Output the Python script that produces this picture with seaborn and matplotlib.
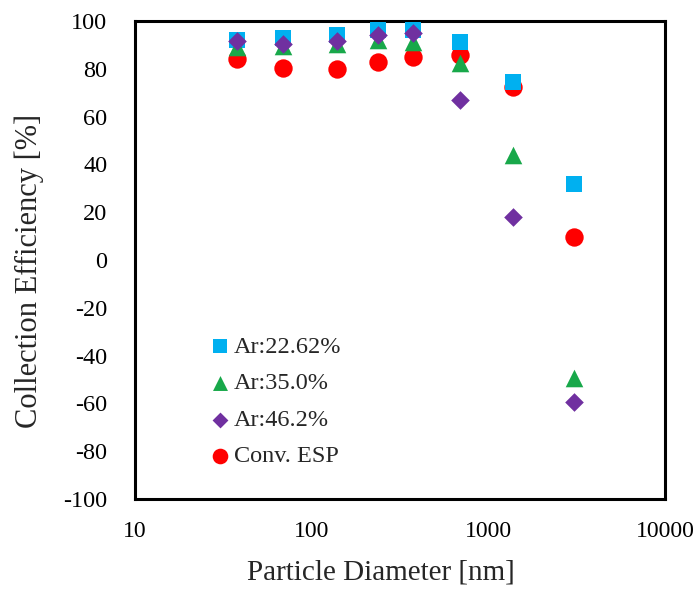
import matplotlib
matplotlib.use("Agg")
import matplotlib.pyplot as plt
import seaborn as sns
import pandas as pd
from matplotlib.ticker import LogLocator, NullFormatter, FuncFormatter

# Data
diameter = [38, 69, 139, 237, 374, 690, 1377, 3054]
ar_22 = [92.1, 92.8, 94.1, 96.2, 96.2, 91.3, 74.6, 31.7]
ar_35 = [89.1, 89.5, 90.4, 92.1, 91.3, 82.6, 43.9, -49.5]
ar_46 = [91.8, 90.4, 91.6, 94.1, 95.1, 66.9, 18.1, -59.5]
conv_esp = [84.0, 80.5, 79.8, 83.0, 84.8, 85.8, 72.5, 9.5]

series_labels = ["Ar:22.62%", "Ar:35.0%", "Ar:46.2%", "Conv. ESP"]
series_values = [ar_22, ar_35, ar_46, conv_esp]
colors = ["#00B0F0", "#18A84A", "#7030A0", "#FF0000"]
markers = ["s", "^", "D", "o"]
sizes = [140, 160, 90, 175]
zorders = [3, 4, 5, 2]

sns.set_style("white")
plt.rcParams['font.family'] = ['Liberation Serif', 'DejaVu Serif']
plt.rcParams['axes.unicode_minus'] = False

fig = plt.figure(figsize=(6.94, 5.94), dpi=100)
ax = fig.add_axes([135/694, 1 - 499/594, 530/694, 478/594])

for lab, vals, c, m, s, z in zip(series_labels, series_values, colors, markers, sizes, zorders):
    df = pd.DataFrame({"d": diameter, "e": vals})
    sns.scatterplot(data=df, x="d", y="e", ax=ax, color=c, marker=m, s=s,
                    linewidth=0, zorder=z, label=lab)

ax.set_xscale("log")
ax.set_xlim(10, 10000)
ax.set_ylim(-100, 100)
ax.set_yticks(list(range(-100, 101, 20)))
ax.xaxis.set_major_locator(LogLocator(base=10, numticks=10))
ax.xaxis.set_minor_locator(LogLocator(base=10, subs=range(2, 10), numticks=20))
ax.xaxis.set_minor_formatter(NullFormatter())
ax.xaxis.set_major_formatter(FuncFormatter(lambda v, p: f"{int(round(v))}"))

ax.tick_params(axis="both", which="major", direction="in", length=5, width=1,
               labelsize=17.5, colors="black")
ax.tick_params(axis="x", which="minor", direction="in", length=4, width=1)
ax.tick_params(axis="x", which="major", pad=16)
ax.tick_params(axis="y", which="major", pad=20)
ax.tick_params(axis="x", which="major", labelsize=17)

for sp in ax.spines.values():
    sp.set_linewidth(2.2)
    sp.set_color("black")

ax.set_xlabel("Particle Diameter [nm]", fontsize=21)
ax.set_ylabel("Collection Efficiency [%]", fontsize=22)
ax.xaxis.set_label_coords((381 - 135) / 530, -(559 - 499) / 478)
ax.yaxis.set_label_coords(-(135 - 44) / 530, (499 - 271) / 478)

leg = ax.legend(loc="upper left", bbox_to_anchor=(0.12, 0.362), frameon=False,
                fontsize=17.5, handletextpad=0.05, labelspacing=0.6,
                handlelength=1.0, borderaxespad=0, markerscale=0.85)

fig.savefig("out.png", dpi=100)
